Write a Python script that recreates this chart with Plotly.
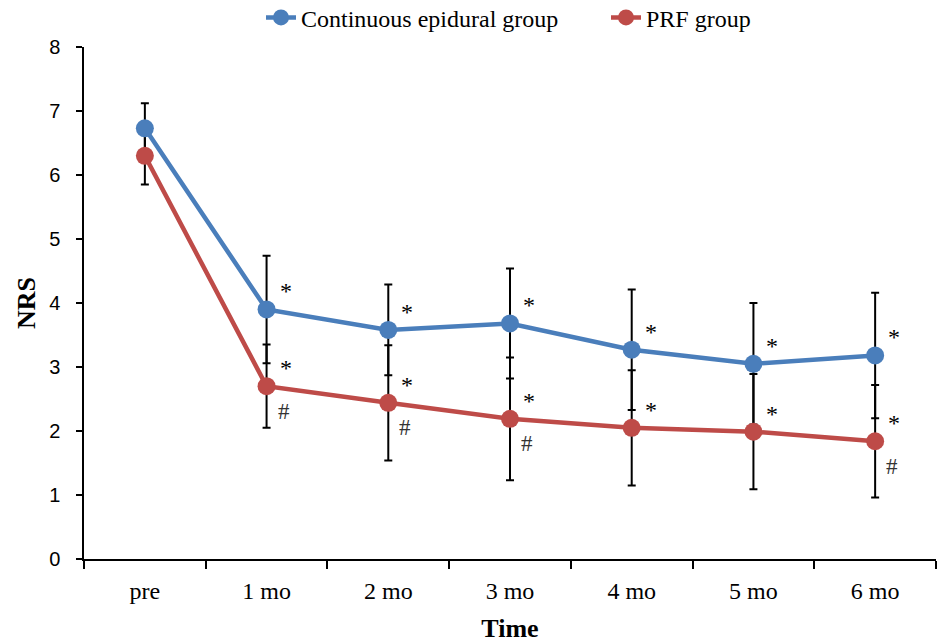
import plotly.graph_objects as go

categories = ["pre", "1 mo", "2 mo", "3 mo", "4 mo", "5 mo", "6 mo"]
epidural_mean = [6.73, 3.90, 3.58, 3.68, 3.27, 3.05, 3.18]
epidural_sd = [0.39, 0.84, 0.71, 0.86, 0.94, 0.95, 0.98]
prf_mean = [6.30, 2.70, 2.44, 2.19, 2.05, 1.99, 1.84]
prf_sd = [0.45, 0.65, 0.90, 0.96, 0.90, 0.90, 0.88]
epidural_star = [False, True, True, True, True, True, True]
prf_star = [False, True, True, True, True, True, True]
prf_hash = [False, True, True, True, False, False, True]

BLUE = "#4A7EBB"
RED = "#BE4B48"
SERIF = "Liberation Serif, Times New Roman, serif"
SANS = "Liberation Sans, Arial, sans-serif"

fig = go.Figure()

# error bars first (below all markers)
for mean, sd in [(epidural_mean, epidural_sd), (prf_mean, prf_sd)]:
    fig.add_trace(go.Scatter(
        x=categories, y=mean, mode="markers",
        marker=dict(color="rgba(0,0,0,0)", size=1),
        error_y=dict(type="data", array=sd, visible=True, color="black",
                     thickness=2, width=4),
        showlegend=False, hoverinfo="skip"))

fig.add_trace(go.Scatter(
    x=categories, y=epidural_mean, mode="lines+markers", name="Continuous epidural group",
    line=dict(color=BLUE, width=4.5), marker=dict(color=BLUE, size=18)))
fig.add_trace(go.Scatter(
    x=categories, y=prf_mean, mode="lines+markers", name="PRF group",
    line=dict(color=RED, width=4.5), marker=dict(color=RED, size=18)))

STAR = dict(family=SERIF, size=24, color="black")
HASH = dict(family=SERIF, size=23, color="#333")
ann = []
for i, c in enumerate(categories):
    if epidural_star[i]:
        ann.append(dict(x=c, y=epidural_mean[i], text="*", showarrow=False,
                        xshift=19, yshift=18, font=STAR))
    if prf_star[i]:
        ann.append(dict(x=c, y=prf_mean[i], text="*", showarrow=False,
                        xshift=19, yshift=18, font=STAR))
    if prf_hash[i]:
        ann.append(dict(x=c, y=prf_mean[i], text="#", showarrow=False,
                        xshift=17, yshift=-25, font=HASH))

# y-axis title as rotated text
ann.append(dict(text="<b>NRS</b>", xref="paper", yref="paper", x=0, y=0.5,
                xanchor="center", yanchor="middle", xshift=-58, textangle=-90,
                showarrow=False, font=dict(family=SERIF, size=26, color="black")))

fig.update_layout(
    width=940, height=643,
    margin=dict(l=84, r=4, t=47, b=84, autoexpand=False),
    paper_bgcolor="white", plot_bgcolor="white",
    showlegend=True,
    legend=dict(orientation="h", xref="container", yref="paper",
                x=261 / 940, xanchor="left", y=1.057, yanchor="middle",
                font=dict(family=SERIF, size=24, color="black"),
                itemwidth=30, tracegroupgap=0, entrywidth=300,
                bgcolor="rgba(0,0,0,0)"),
    annotations=ann,
    xaxis=dict(
        type="category", range=[-0.5, 6.5],
        showline=True, linecolor="black", linewidth=1.5,
        ticks="outside", tickson="boundaries", ticklen=8, tickcolor="black", tickwidth=1.5,
        showgrid=False, zeroline=False,
        tickfont=dict(family=SERIF, size=24, color="black"),
        ticklabelstandoff=9,
        title=dict(text="<b>Time</b>", font=dict(family=SERIF, size=26, color="black"), standoff=17),
    ),
    yaxis=dict(
        range=[0, 8], dtick=1, tick0=0,
        showline=True, linecolor="black", linewidth=1.5,
        ticks="outside", ticklen=6, tickcolor="black", tickwidth=1.5,
        showgrid=False, zeroline=False,
        tickfont=dict(family=SANS, size=20, color="black"),
        ticklabelstandoff=12,
    ),
)

fig.write_html("out.html")
